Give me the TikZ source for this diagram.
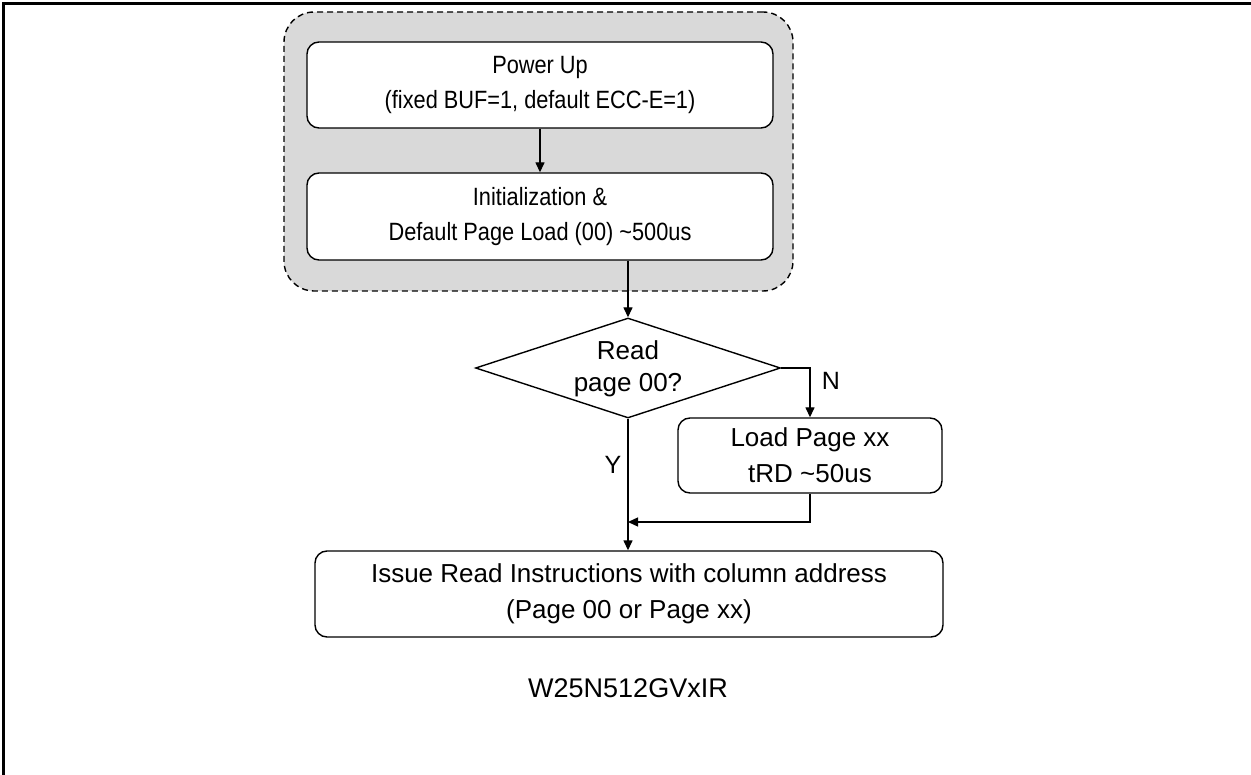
\documentclass[tikz,border=0pt]{standalone}
\usepackage{fontspec}
\setmainfont{Liberation Sans}
\newfontfamily\narrowfont{Liberation Sans}[FakeStretch=0.87]
\usetikzlibrary{shapes.geometric,arrows.meta}
\begin{document}
\begin{tikzpicture}[x=1pt,y=-1pt,
  box/.style={draw,line width=1.4pt,rounded corners=12pt,fill=white,inner sep=0pt,align=center,
    font=\fontsize{26}{36}\selectfont},
  topbox/.style={box,font=\narrowfont\fontsize{25}{35}\selectfont},
  dec/.style={draw,diamond,line width=1.4pt,fill=white,inner sep=0pt},
  dtext/.style={align=center,inner sep=0pt,font=\fontsize{26}{32}\selectfont},
  conn/.style={line width=1.4pt,-{Triangle[length=10pt,width=9pt]}},
  lbl/.style={font=\fontsize{25}{28}\selectfont,inner sep=0pt},
  grp/.style={draw,dash pattern=on 6pt off 4pt,line width=1.4pt,rounded corners=30pt,fill=black!15}]
\useasboundingbox (0,0) rectangle (1251,775);
\draw[line width=2.5pt] (1251,3.5) -- (3.5,3.5) -- (3.5,775);
\node[grp,minimum width=509pt,minimum height=279pt,inner sep=0pt] (g) at (538.5,151.5) {};
\node[topbox,minimum width=466pt,minimum height=86pt] (pu) at (540,85) {Power Up\\(fixed BUF=1, default ECC-E=1)};
\node[topbox,minimum width=466pt,minimum height=87pt] (init) at (540,216.5) {Initialization \&\\Default Page Load (00) \textasciitilde500us};
\node[dec,minimum width=305pt,minimum height=100pt] (d) at (628,368) {};
\node[dtext] (dt) at (628,369) {Read\\page 00?};
\node[box,minimum width=264pt,minimum height=75pt] (load) at (810,455.5) {Load Page xx\\tRD \textasciitilde50us};
\node[box,minimum width=628pt,minimum height=86pt] (issue) at (629,594) {Issue Read Instructions with column address\\(Page 00 or Page xx)};
\node[font=\fontsize{27}{30}\selectfont,inner sep=0pt] (title) at (628,688) {W25N512GVxIR};
\coordinate (m) at (628,522);
\draw[conn] (pu.south) -- (init.north);
\draw[conn] (init.south -| d.north) -- (d.north);
\draw[conn] (d.east) -| (load.north);
\draw[conn] (d.south) -- (issue.north -| d.south);
\draw[conn] (load.south) |- (m);
\node[lbl] (n) at (831,381) {N};
\node[lbl] (y) at (613,465) {Y};
\end{tikzpicture}
\end{document}
